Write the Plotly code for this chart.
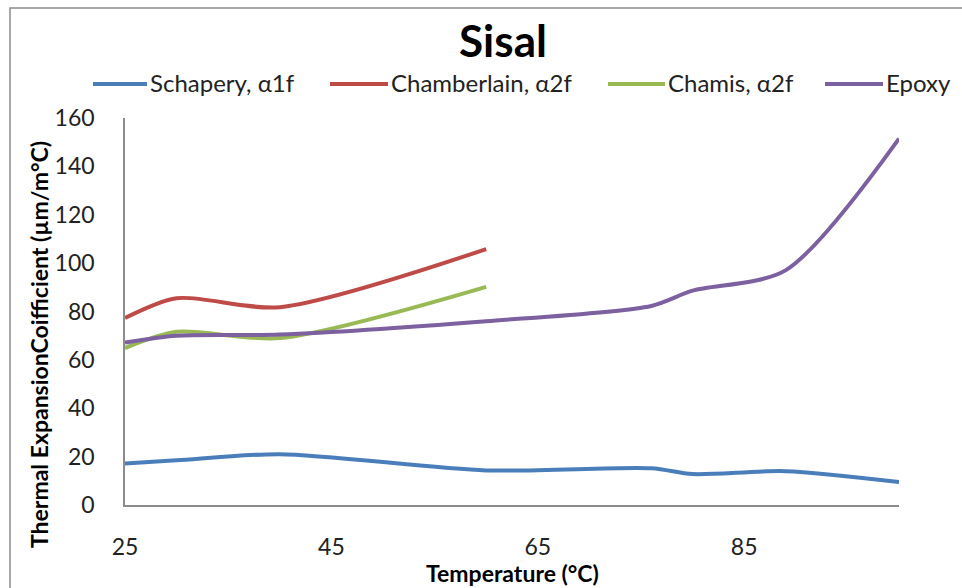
import plotly.graph_objects as go

# Temperature points (°C)
temp_full = [25, 30, 40, 60, 76, 80, 89, 100]
temp_short = [25, 30, 40, 60]

# Thermal expansion coefficients (µm/m°C)
schapery_a1f = [17.2, 18.5, 21.0, 14.3, 15.2, 12.8, 14.0, 9.5]
chamberlain_a2f = [77.3, 85.5, 81.8, 105.8]
chamis_a2f = [64.9, 71.6, 69.0, 90.2]
epoxy = [67.2, 70.0, 70.5, 76.0, 82.3, 88.6, 97.0, 151.5]

series_names = ["Schapery, α1f", "Chamberlain, α2f", "Chamis, α2f", "Epoxy"]
series_colors = ["#4A7EBB", "#BE4B48", "#98B954", "#7D60A0"]

FONT = "Lato"
W, H = 962, 588
L, R, T, B = 125, 63, 118, 83
PW, PH = W - L - R, H - T - B


def px_x(p):
    return (p - L) / PW


def px_y(p):
    return (H - B - p) / PH


fig = go.Figure()
series_data = [
    (temp_full, schapery_a1f),
    (temp_short, chamberlain_a2f),
    (temp_short, chamis_a2f),
    (temp_full, epoxy),
]
for name, color, (xs, ys) in zip(series_names, series_colors, series_data):
    fig.add_trace(go.Scatter(
        x=xs, y=ys, name=name, mode="lines", showlegend=False,
        line=dict(color=color, width=4, shape="spline", smoothing=0.8),
    ))

fig.update_layout(
    width=W, height=H,
    margin=dict(l=L, r=R, t=T, b=B),
    paper_bgcolor="white", plot_bgcolor="white",
    font=dict(family=FONT, size=23, color="#222222"),
    title=dict(text="<b>Sisal</b>", x=503 / W, xref="container", xanchor="center",
               y=1 - 42 / H, yanchor="middle",
               font=dict(family=FONT, size=44, color="#000000")),
    showlegend=False,
)

fig.update_xaxes(
    range=[25, 100], tickvals=[25, 45, 65, 85], showgrid=False, zeroline=False,
    showline=True, linecolor="#8C8C8C", linewidth=1.5, ticks="",
    ticklabelstandoff=21, tickfont=dict(family=FONT, size=23, color="#222222"),
)
fig.update_yaxes(
    range=[0, 160], dtick=20, showgrid=False, zeroline=False,
    showline=True, linecolor="#8C8C8C", linewidth=1.5, ticks="",
    ticklabelstandoff=24, tickfont=dict(family=FONT, size=23, color="#222222"),
)

# Legend row above the plot: sample line followed by its label
legend_line_px = [(93, 147), (330, 388), (608, 665), (825, 883)]
legend_y = 84
for name, color, (x0, x1) in zip(series_names, series_colors, legend_line_px):
    fig.add_shape(type="line", xref="paper", yref="paper",
                  x0=px_x(x0), x1=px_x(x1), y0=px_y(legend_y), y1=px_y(legend_y),
                  line=dict(color=color, width=4))
    fig.add_annotation(text=name, xref="paper", yref="paper",
                       x=px_x(x1 + 1), y=px_y(legend_y - 1), xanchor="left", yanchor="middle",
                       showarrow=False, font=dict(family=FONT, size=24, color="#222222"))

# Axis titles
fig.add_annotation(text="<b>Temperature (°C)</b>", xref="paper", yref="paper",
                   x=px_x(512), y=px_y(573), xanchor="center", yanchor="middle",
                   showarrow=False, font=dict(family=FONT, size=23, color="#000000"))
fig.add_annotation(text="<b>Thermal ExpansionCoifficient (µm/m°C)</b>", xref="paper", yref="paper",
                   x=px_x(39), y=px_y(345), xanchor="center", yanchor="middle", textangle=-90,
                   showarrow=False, font=dict(family=FONT, size=23, color="#000000"))

# Chart frame
fig.add_shape(type="rect", xref="paper", yref="paper",
              x0=px_x(10), x1=px_x(990), y0=px_y(620), y1=px_y(8),
              line=dict(color="#8C8C8C", width=1.5), fillcolor="rgba(0,0,0,0)", layer="below")

fig.write_html("out.html")
